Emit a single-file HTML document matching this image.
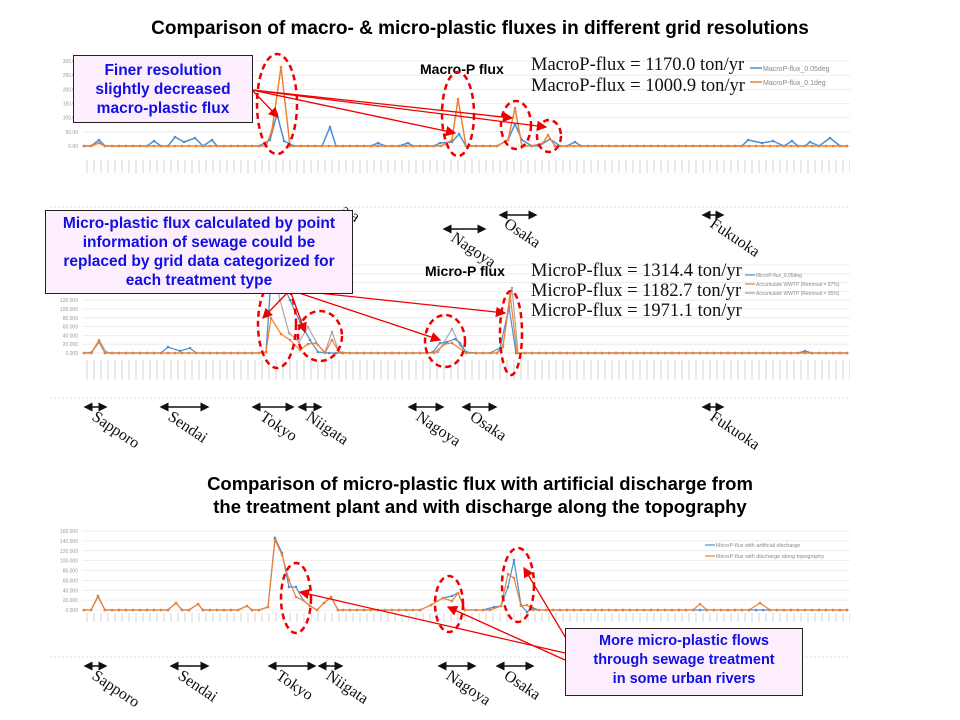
<!DOCTYPE html>
<html><head><meta charset="utf-8"><style>
html,body{margin:0;padding:0;background:#fff;}
body{width:960px;height:720px;overflow:hidden;position:relative;font-family:"Liberation Sans",Arial,sans-serif;}
.t{position:absolute;font-weight:bold;color:#000;text-align:center;}
.box{position:absolute;background:#fdeefe;border:1.5px solid #222;color:#1010e0;font-weight:bold;text-align:center;font-size:15.5px;line-height:19px;box-sizing:border-box;}
</style></head><body>
<div class="t" style="left:0;width:960px;top:18px;font-size:19px;">Comparison of macro- &amp; micro-plastic fluxes in different grid resolutions</div>
<div class="t" style="left:0;width:960px;top:472px;font-size:18.5px;line-height:23px;">Comparison of micro-plastic flux with artificial discharge from<br>the treatment plant and with discharge along the topography</div>
<svg id="s" width="960" height="720" style="position:absolute;left:0;top:0" xmlns="http://www.w3.org/2000/svg">
<defs>
<pattern id="tk" width="7" height="40" patternUnits="userSpaceOnUse"><line x1="3" y1="0" x2="3" y2="22" stroke="#dcdcdc" stroke-width="1.2"/></pattern>
<marker id="ah" markerWidth="8" markerHeight="8" refX="7" refY="4" orient="auto"><path d="M0,0 L8,4 L0,8 z" fill="#e00"/></marker>
<marker id="da" markerWidth="6" markerHeight="6" refX="3" refY="3" orient="auto-start-reverse"><path d="M0,0 L6,3 L0,6 z" fill="#111"/></marker>
</defs>
<g id="charts"></g>
<g font-family="Liberation Sans, Arial, sans-serif" font-weight="bold" font-size="14">
<text x="420" y="74">Macro-P flux</text>
<text x="425" y="276">Micro-P flux</text>
</g>
<g font-family="Liberation Serif, serif" font-size="18.5" fill="#111">
<text x="531" y="70">MacroP-flux = 1170.0 ton/yr</text>
<text x="531" y="91">MacroP-flux = 1000.9 ton/yr</text>
<text x="531" y="276">MicroP-flux = 1314.4 ton/yr</text>
<text x="531" y="296">MicroP-flux = 1182.7 ton/yr</text>
<text x="531" y="316">MicroP-flux = 1971.1 ton/yr</text>
</g>
<g font-family="Liberation Sans, Arial, sans-serif" font-size="7" fill="#888">
<line x1="750" y1="68" x2="762" y2="68" stroke="#4a90d0" stroke-width="1.5"/><text x="763" y="71">MacroP-flux_0.05deg</text>
<line x1="750" y1="82" x2="762" y2="82" stroke="#f08030" stroke-width="1.5"/><text x="763" y="85">MacroP-flux_0.1deg</text>
<line x1="745" y1="275" x2="755" y2="275" stroke="#4a90d0" stroke-width="1.2"/><text x="756" y="277" font-size="5">MicroP-flux_0.05deg</text>
<line x1="745" y1="284" x2="755" y2="284" stroke="#f08030" stroke-width="1.2"/><text x="756" y="286" font-size="5">Accumulate WWTP (Removal = 97%)</text>
<line x1="745" y1="293" x2="755" y2="293" stroke="#999" stroke-width="1.2"/><text x="756" y="295" font-size="5">Accumulate WWTP (Removal = 95%)</text>
<line x1="705" y1="545" x2="715" y2="545" stroke="#4a90d0" stroke-width="1.2"/><text x="716" y="547" font-size="5.5">MicroP-flux with artificial discharge</text>
<line x1="705" y1="556" x2="715" y2="556" stroke="#f08030" stroke-width="1.2"/><text x="716" y="558" font-size="5.5">MicroP-flux with discharge along topography</text>
</g>
<g id="cities" font-family="Liberation Serif, serif" font-size="16" fill="#111"></g>
<g fill="none" stroke="#e00" stroke-width="2.5" stroke-dasharray="6,4">
<ellipse cx="277" cy="104" rx="20" ry="50"/><ellipse cx="458" cy="114" rx="16" ry="42"/><ellipse cx="516" cy="125" rx="15" ry="24"/><ellipse cx="549" cy="136" rx="12" ry="16"/>
<ellipse cx="277" cy="324" rx="19" ry="44"/><ellipse cx="320" cy="336" rx="22" ry="25"/><ellipse cx="445" cy="341" rx="20" ry="26"/><ellipse cx="511" cy="333" rx="11" ry="42"/>
<ellipse cx="296" cy="598" rx="15" ry="35"/><ellipse cx="449" cy="604" rx="14" ry="28"/><ellipse cx="518" cy="585" rx="16" ry="37"/>
</g>
<g stroke="#e00" stroke-width="1.3" marker-end="url(#ah)">
<line x1="252" y1="90" x2="278" y2="117"/><line x1="252" y1="90" x2="455" y2="133"/><line x1="252" y1="90" x2="512" y2="118"/><line x1="252" y1="90" x2="546" y2="127"/>
<line x1="290" y1="290" x2="263" y2="318"/><line x1="290" y1="290" x2="305" y2="332"/><line x1="290" y1="290" x2="440" y2="340"/><line x1="290" y1="290" x2="505" y2="313"/>
<line x1="565" y1="653" x2="300" y2="592"/><line x1="565" y1="660" x2="448" y2="607"/><line x1="570" y1="645" x2="524" y2="568"/>
</g>
</svg>
<div class="box" style="left:73px;top:55px;width:180px;height:68px;padding-top:5px;">Finer resolution<br>slightly decreased<br>macro-plastic flux</div>
<div class="box" style="left:45px;top:210px;width:308px;height:84px;padding-top:3px;">Micro-plastic flux calculated by point<br>information of sewage could be<br>replaced by grid data categorized for<br>each treatment type</div>
<div class="box" style="left:565px;top:628px;width:238px;height:68px;padding-top:3px;font-size:14.5px;">More micro-plastic flows<br>through sewage treatment<br>in some urban rivers</div>
<script>
var NS="http://www.w3.org/2000/svg",g=document.getElementById('charts');
function el(t,a,p){var e=document.createElementNS(NS,t);for(var k in a)e.setAttribute(k,a[k]);(p||g).appendChild(e);return e;}
function chart(y0,ytop,n,labels,divY){
 for(var i=0;i<n;i++){var y=y0-(y0-ytop)*i/(n-1);el('line',{x1:82,x2:850,y1:y,y2:y,stroke:'#e8e8e8','stroke-width':0.8});
 var t=el('text',{x:78,y:y+2,'font-size':5,fill:'#999','text-anchor':'end','font-family':'Liberation Sans'});t.textContent=labels[i];}
 el('rect',{x:82,y:y0+3,width:768,height:24,fill:'url(#tk)'});
 el('line',{x1:50,x2:850,y1:divY,y2:divY,stroke:'#ddd','stroke-width':1,'stroke-dasharray':'2,2'});
}
chart(146,61,7,['0.00','50.00','100.00','150.00','200.00','250.00','300.00'],207);
chart(353,265,11,['0.000','20.000','40.000','60.000','80.000','100.000','120.000','','','',''],398);
chart(610,531,9,['0.000','20.000','40.000','60.000','80.000','100.000','120.000','140.000','160.000'],657);
function series(y0,pts,col,w,step){
 pts.sort(function(a,b){return a[0]-b[0];});
 var out=[],x;
 for(x=84;x<=850;x+=step){
  var ok=true;
  for(var j=0;j<pts.length;j++){
   if(Math.abs(pts[j][0]-x)<5){ok=false;break;}
   if(j<pts.length-1 && pts[j][0]<x && pts[j+1][0]>x && pts[j+1][0]-pts[j][0]<=16){ok=false;break;}
  }
  if(ok)out.push([x,y0]);
 }
 out=out.concat(pts);out.sort(function(a,b){return a[0]-b[0];});
 el('polyline',{points:out.map(function(p){return p.join(',');}).join(' '),fill:'none',stroke:col,'stroke-width':w});
 out.forEach(function(p){el('circle',{cx:p[0],cy:p[1],r:1.3,fill:col});});
}
var b='#4a90d0',o='#f08030',gr='#a8a8a8';
series(146,[[99,140],[154,141],[175,137],[184,142],[195,138],[212,140],[270,140],[277,114],[284,141],[330,127],[378,143],[408,143],[440,143],[452,142],[459,134],[466,146],[508,140],[515,124],[522,140],[550,139],[575,142],[748,140],[762,143],[773,141],[792,141],[810,142],[830,138]],b,1.5,7);
series(146,[[99,143],[272,130],[281,67],[290,146],[452,140],[458,99],[466,146],[508,140],[515,108],[522,146],[543,143],[548,135],[555,146]],o,1.5,7);
series(353,[[92,352],[99,340],[106,352],[266,352],[272,265],[280,300],[289,333],[299,342],[308,327],[318,345],[325,352],[332,332],[339,352],[438,352],[452,329],[460,345],[466,353],[503,345],[512,288],[518,353]],gr,1.2,7);
series(353,[[99,342],[168,347],[180,351],[190,348],[266,352],[272,265],[281,280],[290,300],[300,322],[310,340],[318,352],[433,352],[440,343],[447,342],[455,339],[460,343],[466,352],[500,348],[509,307],[516,353],[805,351]],b,1.2,7);
series(353,[[99,341],[266,352],[271,318],[281,334],[290,340],[300,350],[308,344],[316,343],[325,353],[332,340],[339,352],[445,344],[452,343],[466,353],[503,347],[510,294],[517,353]],o,1.2,7);
series(610,[[98,596],[176,603],[198,604],[247,606],[268,607],[275,538],[282,553],[289,587],[296,587],[303,600],[310,606],[317,610],[324,603],[331,597],[338,610],[431,605],[443,598],[452,596],[458,593],[465,610],[494,607],[501,606],[508,587],[514,560],[521,605],[527,612],[533,608]],b,1.2,7);
series(610,[[98,597],[176,603],[198,604],[247,606],[268,607],[275,540],[282,555],[289,580],[296,597],[303,600],[310,606],[317,610],[324,603],[331,597],[338,610],[431,605],[443,598],[452,601],[458,593],[465,610],[501,606],[508,574],[514,578],[521,606],[527,605],[533,610],[700,604],[760,603]],o,1.2,7);
var c=document.getElementById('cities');
function city(x1,x2,y,name,tx,ty){
 el('line',{x1:x1,x2:x2,y1:y,y2:y,stroke:'#111','stroke-width':1.5,'marker-start':'url(#da)','marker-end':'url(#da)'},c);
 var t=el('text',{x:0,y:0,transform:'translate('+tx+','+ty+') rotate(34)'},c);t.textContent=name;}
city(447,482,229,'Nagoya',450,240);city(503,533,215,'Osaka',503,226);city(706,720,215,'Fukuoka',709,226);
[[88,103,'Sapporo'],[164,205,'Sendai'],[256,290,'Tokyo'],[302,318,'Niigata'],[412,440,'Nagoya'],[466,493,'Osaka'],[706,720,'Fukuoka']].forEach(function(a){city(a[0],a[1],407,a[2],a[0]+3,419);});
[[88,103,'Sapporo'],[174,205,'Sendai'],[272,312,'Tokyo'],[322,339,'Niigata'],[442,472,'Nagoya'],[500,530,'Osaka']].forEach(function(a){city(a[0],a[1],666,a[2],a[0]+3,678);});
var t=el('text',{x:0,y:0,transform:'translate(340,212) rotate(34)'},c);t.textContent='ata';
</script>
</body></html>
